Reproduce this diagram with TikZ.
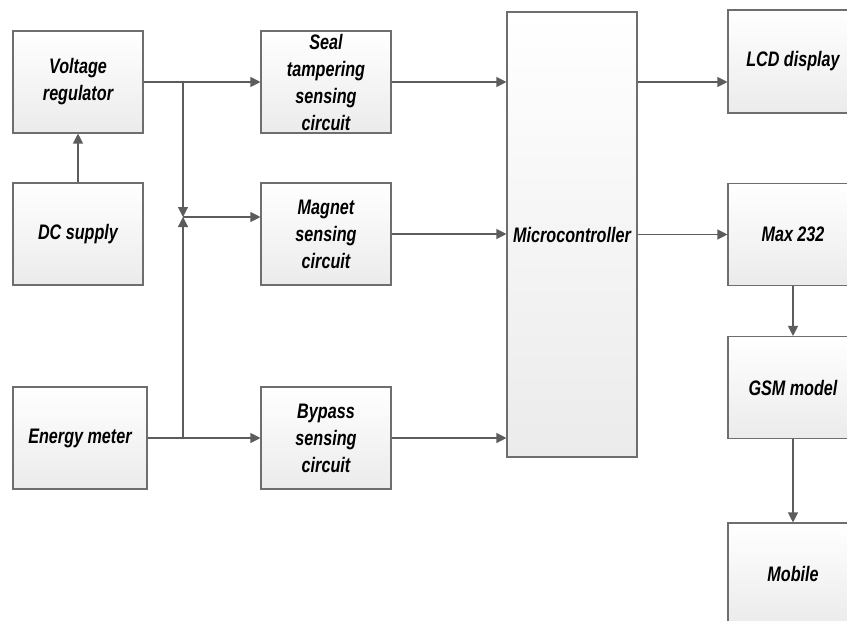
\documentclass[tikz,border=0pt]{standalone}
\usepackage{fontspec}
\newfontfamily\blockfont{Liberation Sans}[FakeStretch=0.77]
\usetikzlibrary{arrows.meta}
\definecolor{edge}{HTML}{6E6E6E}
\definecolor{wire}{HTML}{5C5C5C}
\definecolor{shade}{HTML}{EBEBEB}

\tikzset{
  block/.style={draw=edge,line width=1.1pt,top color=white,bottom color=shade,
    minimum width=130pt,minimum height=102pt,align=center,inner sep=2pt,
    font=\blockfont\bfseries\itshape\fontsize{21}{27}\selectfont},
  wirearrow/.style={wire,line width=1.2pt,-{Triangle[length=10pt,width=10pt]}}
}

\begin{document}
\begin{tikzpicture}[x=1pt,y=-1pt]
  \useasboundingbox (0,0) rectangle (847,621);
  % left column
  \node[block] (volt) at (78,82) {Voltage\\regulator};
  \node[block] (dc) at (78,234) {DC supply};
  \node[block,minimum width=134pt] (meter) at (80,438) {Energy meter};
  % sensing circuits
  \node[block] (seal) at (326,82) {Seal\\tampering\\sensing\\circuit};
  \node[block] (magnet) at (326,234) {Magnet\\sensing\\circuit};
  \node[block] (bypass) at (326,438) {Bypass\\sensing\\circuit};
  % controller
  \node[block,minimum height=445pt] (micro) at (572,234.5) {Microcontroller};
  % right column
  \node[block,minimum height=103pt] (lcd) at (793,61.5) {LCD display};
  \node[block] (max) at (793,234.5) {Max 232};
  \node[block] (gsm) at (793,387.5) {GSM model};
  \node[block] (mobile) at (793,574) {Mobile};
  % junction points
  \coordinate (top) at (183,82);
  \coordinate (mid) at (183,217);
  \coordinate (bot) at (183,438);
  % wiring
  \draw[wirearrow] (dc) -- (volt);
  \draw[wirearrow] (volt.east) -- (seal.west);
  \draw[wirearrow] (top) -- (mid);
  \draw[wirearrow] (bot) -- (mid);
  \draw[wirearrow] (mid) -- (mid -| magnet.west);
  \draw[wirearrow] (meter.east) -- (bypass.west);
  \draw[wirearrow] (seal.east) -- (seal.east -| micro.west);
  \draw[wirearrow] (magnet.east) -- (magnet.east -| micro.west);
  \draw[wirearrow] (bypass.east) -- (bypass.east -| micro.west);
  \draw[wirearrow] (micro.east |- seal.east) -- (lcd.west |- seal.east);
  \draw[wirearrow] (micro.east |- max.west) -- (max.west);
  \draw[wirearrow] (max) -- (gsm);
  \draw[wirearrow] (gsm) -- (mobile);
\end{tikzpicture}
\end{document}
